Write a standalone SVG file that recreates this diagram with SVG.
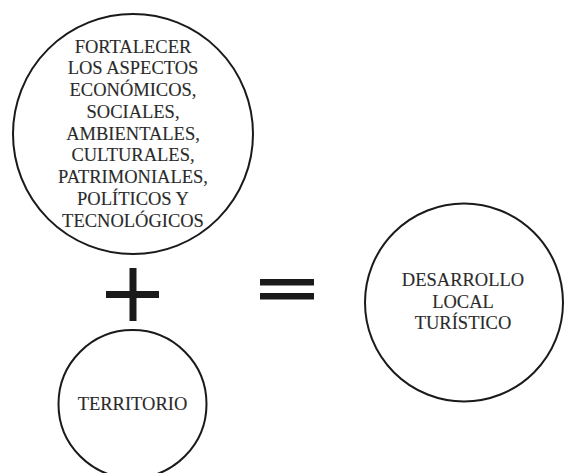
<svg xmlns="http://www.w3.org/2000/svg" width="564" height="473" viewBox="0 0 564 473">
<style>
.c{fill:#fff;stroke:#1a1a1a;stroke-width:2}
.t{font-family:"Liberation Serif","DejaVu Serif",serif;font-size:18.5px;fill:#2a2a2a;stroke:#2a2a2a;stroke-width:0.12;text-anchor:middle}
.op{fill:#1a1a1a}
</style>
<rect width="564" height="473" fill="#fff"/>
<g id="node-aspectos">
<circle class="c" cx="133" cy="134" r="120"/>
<text class="t" x="133" y="52.5">FORTALECER</text>
<text class="t" x="133" y="74.25">LOS ASPECTOS</text>
<text class="t" x="133" y="96">ECONÓMICOS,</text>
<text class="t" x="133" y="117.75">SOCIALES,</text>
<text class="t" x="133" y="139.5">AMBIENTALES,</text>
<text class="t" x="133" y="161.25">CULTURALES,</text>
<text class="t" x="133" y="183">PATRIMONIALES,</text>
<text class="t" x="133" y="204.75">POLÍTICOS Y</text>
<text class="t" x="133" y="226.5">TECNOLÓGICOS</text>
</g>
<g id="connectors">
<rect class="op" x="129.5" y="268" width="7" height="53"/>
<rect class="op" x="106" y="291" width="53" height="7"/>
<rect class="op" x="260" y="279" width="54" height="6.5"/>
<rect class="op" x="260" y="293" width="54" height="6.5"/>
</g>
<g id="node-territorio">
<circle class="c" cx="132.5" cy="404" r="74"/>
<text class="t" x="132.5" y="410">TERRITORIO</text>
</g>
<g id="node-desarrollo">
<circle class="c" cx="464" cy="302.5" r="99"/>
<text class="t" x="463" y="286">DESARROLLO</text>
<text class="t" x="463" y="308">LOCAL</text>
<text class="t" x="463" y="329">TURÍSTICO</text>
</g>
</svg>
